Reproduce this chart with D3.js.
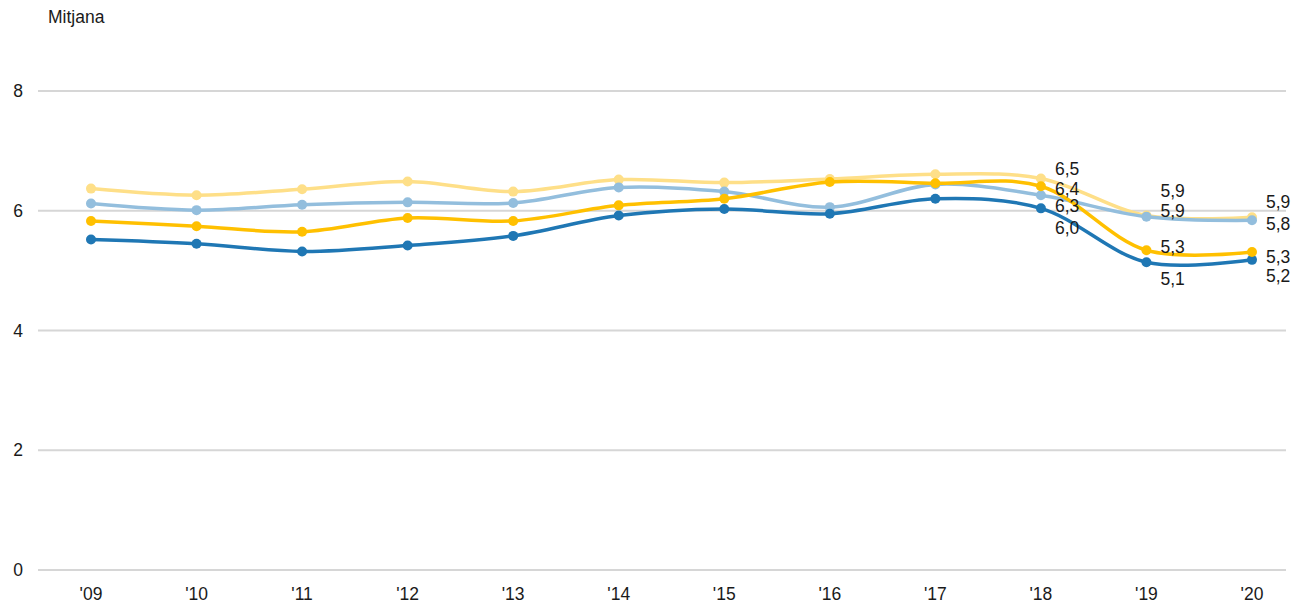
<!DOCTYPE html>
<html>
<head>
<meta charset="utf-8">
<script src="https://cdn.jsdelivr.net/npm/d3@7"></script>
<style>
  body { margin: 0; background: #fff; }
  text { font-family: "Liberation Sans", Arial, sans-serif; fill: #1a1a1a; }
</style>
</head>
<body>
<div id="chart"></div>
<script>
let width = 1291;
let height = 603;

// data
let years = ["'09", "'10", "'11", "'12", "'13", "'14", "'15", "'16", "'17", "'18", "'19", "'20"];
let paleYellow = [6.37, 6.26, 6.36, 6.49, 6.32, 6.52, 6.47, 6.53, 6.61, 6.54, 5.92, 5.89];
let paleBlue   = [6.12, 6.01, 6.10, 6.14, 6.13, 6.39, 6.32, 6.06, 6.44, 6.26, 5.90, 5.84];
let darkBlue   = [5.52, 5.45, 5.32, 5.42, 5.58, 5.92, 6.03, 5.95, 6.20, 6.04, 5.14, 5.18];
let amber      = [5.83, 5.74, 5.65, 5.88, 5.83, 6.09, 6.20, 6.48, 6.46, 6.41, 5.34, 5.31];
let yTicks = [0, 2, 4, 6, 8];
let labelledYears = ["'18", "'19", "'20"];

// dy = vertical nudge of the value labels so they don't collide
let series = [
    { name: 'paleYellow', values: paleYellow, color: '#fedf88', dy: [-10, -25, -15] },
    { name: 'paleBlue', values: paleBlue, color: '#93bedd', dy: [11, -6, 4] },
    { name: 'darkBlue', values: darkBlue, color: '#1f77b4', dy: [20, 17, 16] },
    { name: 'amber', values: amber, color: '#ffc000', dy: [3, -3, 5] }
];

let svg = d3.select('#chart')
    .append('svg')
    .attr('width', width)
    .attr('height', height);

let x = d3.scalePoint().domain(years).range([91, 1252]);
let y = d3.scaleLinear().domain([0, 8]).range([570, 91]);

// title
svg.append('text')
    .attr('x', 48)
    .attr('y', 23)
    .style('font-size', '17.5px')
    .text('Mitjana');

// grid + y labels
let grid = svg.append('g');
grid.selectAll('line')
    .data(yTicks)
    .enter().append('line')
    .attr('x1', 38)
    .attr('x2', 1286)
    .attr('y1', d => y(d))
    .attr('y2', d => y(d))
    .attr('stroke', '#d6d6d6')
    .attr('stroke-width', 2);
grid.selectAll('text')
    .data(yTicks)
    .enter().append('text')
    .attr('x', 23)
    .attr('y', d => y(d))
    .attr('dy', '0.35em')
    .attr('text-anchor', 'end')
    .style('font-size', '17.5px')
    .text(d => d);

// x labels
svg.append('g').selectAll('text')
    .data(years)
    .enter().append('text')
    .attr('x', d => x(d))
    .attr('y', 600)
    .attr('text-anchor', 'middle')
    .style('font-size', '17.5px')
    .text(d => d);

let line = d3.line()
    .x((d, i) => x(years[i]))
    .y(d => y(d))
    .curve(d3.curveCatmullRom.alpha(0.5));

series.forEach(function (s) {
    let g = svg.append('g').attr('class', s.name);
    g.append('path')
        .datum(s.values)
        .attr('d', line)
        .attr('fill', 'none')
        .attr('stroke', s.color)
        .attr('stroke-width', 3.5);
    g.selectAll('circle')
        .data(s.values)
        .enter().append('circle')
        .attr('cx', (d, i) => x(years[i]))
        .attr('cy', d => y(d))
        .attr('r', 5)
        .attr('fill', s.color);
});

// value labels on last three years
let fmt = v => d3.format('.1f')(v).replace('.', ',');
series.forEach(function (s) {
    labelledYears.forEach(function (yr, k) {
        let i = years.indexOf(yr);
        svg.append('text')
            .attr('x', x(yr) + 14)
            .attr('y', y(s.values[i]) + s.dy[k])
            .attr('dy', '0.35em')
            .style('font-size', '17.5px')
            .text(fmt(s.values[i]));
    });
});
</script>
</body>
</html>
